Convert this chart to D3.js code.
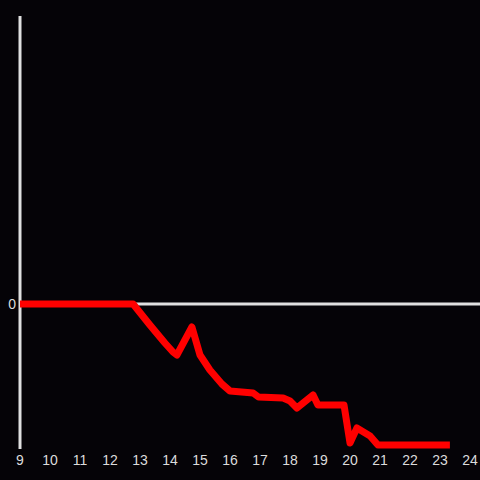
<!DOCTYPE html>
<html lang="en">
<head>
    <meta charset="UTF-8">
    <title>Line chart</title>
    <script src="https://d3js.org/d3.v7.min.js"></script>
    <style>
        html, body {
            margin: 0;
            padding: 0;
            background: #050307;
        }

        .tick-label {
            font-family: "Liberation Sans", Arial, sans-serif;
            font-size: 14px;
            fill: #dcdcdc;
        }
    </style>
</head>
<body>
    <svg id="chart" width="480" height="480"></svg>

    <script>
        // Hour of day (x) and value (y)
        const hours = [9, 12.77, 13.33, 13.83, 14.1, 14.23, 14.73, 15.0, 15.33, 15.73, 16.0,
            16.77, 16.95, 17.77, 18.0, 18.23, 18.77, 18.93, 19.8, 20.0, 20.23, 20.67, 20.93, 23.33];
        const values = [0, 0, -2.1, -3.9, -4.8, -5.1, -2.3, -5.1, -6.6, -8.0, -8.7,
            -8.9, -9.3, -9.4, -9.7, -10.4, -9.1, -10.1, -10.1, -13.9, -12.4, -13.2, -14.1, -14.1];
        const xTicks = d3.range(9, 25);
        const yTicks = [0];

        const width = 480;
        const height = 480;

        const svg = d3.select("#chart");

        const x = d3.scaleLinear().domain([9, 24]).range([20, 470]);
        const y = d3.scaleLinear().domain([-14.5, 28.8]).range([449, 16]);

        // background
        svg.append("rect")
            .attr("width", width)
            .attr("height", height)
            .attr("fill", "#050307");

        // zero line
        svg.append("line")
            .attr("x1", x(9))
            .attr("x2", width)
            .attr("y1", y(0))
            .attr("y2", y(0))
            .attr("stroke", "#e0e0e0")
            .attr("stroke-width", 3);

        // y axis line
        svg.append("line")
            .attr("x1", x(9))
            .attr("x2", x(9))
            .attr("y1", y.range()[1])
            .attr("y2", y.range()[0])
            .attr("stroke", "#e0e0e0")
            .attr("stroke-width", 3);

        // x tick labels
        svg.selectAll(".xlabel")
            .data(xTicks)
            .enter()
            .append("text")
            .attr("class", "tick-label")
            .attr("x", (d) => x(d))
            .attr("y", 465)
            .attr("text-anchor", "middle")
            .text((d) => d);

        // y tick labels
        svg.selectAll(".ylabel")
            .data(yTicks)
            .enter()
            .append("text")
            .attr("class", "tick-label")
            .attr("x", 16)
            .attr("y", (d) => y(d) + 5)
            .attr("text-anchor", "end")
            .text((d) => d);

        // the red series
        const line = d3.line()
            .x((d, i) => x(hours[i]))
            .y((d) => y(d));

        svg.append("path")
            .datum(values)
            .attr("d", line)
            .attr("fill", "none")
            .attr("stroke", "#ff0000")
            .attr("stroke-width", 7)
            .attr("stroke-linejoin", "round")
            .attr("stroke-linecap", "butt");
    </script>
</body>
</html>
